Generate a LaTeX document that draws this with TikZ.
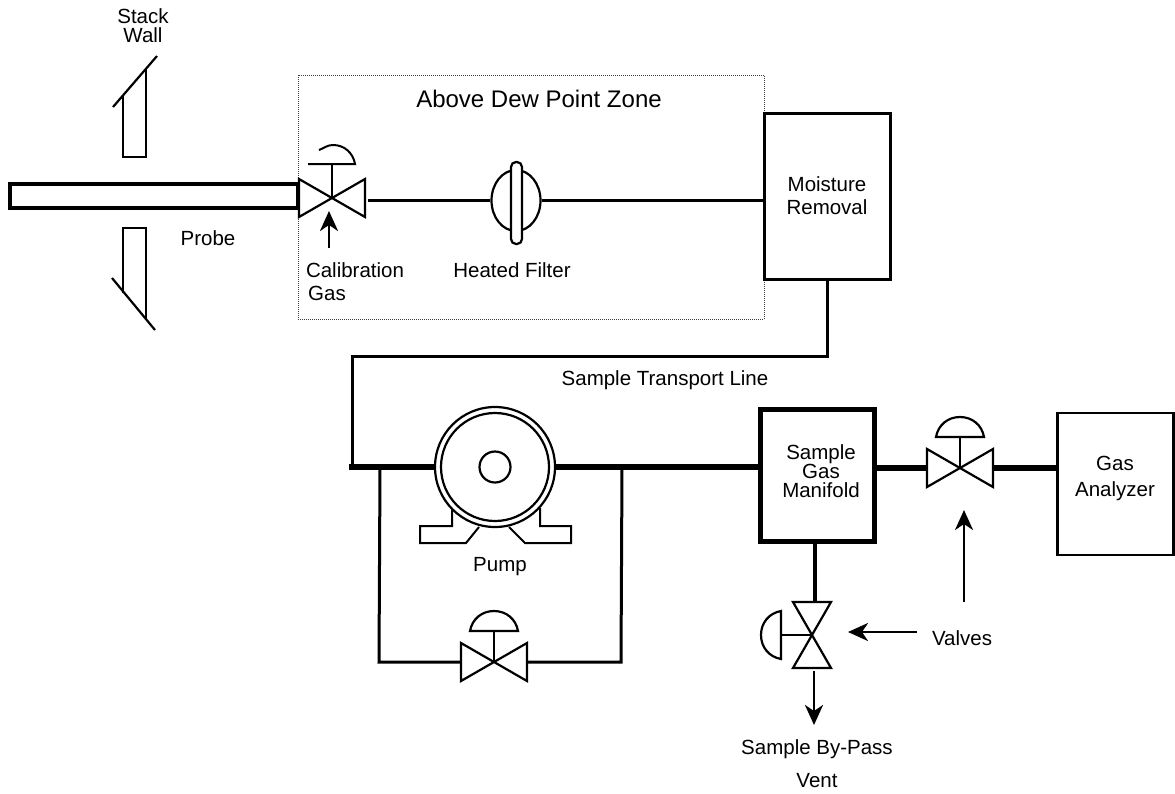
\documentclass[tikz,border=0pt]{standalone}
\usepackage{fontspec}
\setmainfont{Liberation Sans}
\usetikzlibrary{calc,arrows.meta,shapes.geometric}
\tikzset{
    lbl/.style={
        inner sep=0pt, text=black, align=center,
        font=\fontsize{20.5}{19}\selectfont
    },
    thinpipe/.style={line width=3pt},
    thickpipe/.style={line width=6pt},
    pointer/.style={
        line width=2.8pt,
        -{Stealth[length=20pt,width=18pt,inset=6pt]}
    },
    wall/.style={line width=2.2pt},
    valvebody/.pic={
        \draw[line width=2.2pt,line join=miter]
            (-33,-19) -- (33,19) -- (33,-19) -- (-33,19) -- cycle;
        \coordinate (-west) at (-34,0);
        \coordinate (-east) at (34,0);
    },
    valve/.pic={
        \draw[line width=2.2pt,line join=miter]
            (-33,-19) -- (33,19) -- (33,-19) -- (-33,19) -- cycle;
        \draw[line width=2pt] (0,0) -- (0,-31);
        \draw[line width=2.2pt,fill=white]
            (-24,-31) to[out=80,in=180] (0,-51) to[out=0,in=100] (24,-31) -- cycle;
        \coordinate (-west) at (-34,0);
        \coordinate (-east) at (34,0);
    }
}

\begin{document}
\begin{tikzpicture}[x=1pt,y=-1pt]

    \useasboundingbox (0,0) rectangle (1175,793);

    % heated zone
    \draw[line width=1pt,densely dotted,black!75] (298,75) rectangle (764,319);
    \node[lbl,font=\fontsize{24}{26}\selectfont] (zone) at (539,99) {Above Dew Point Zone};

    % stack wall
    \node[lbl] (stack) at (143,26) {Stack\\Wall};
    \draw[wall] (113,107) -- (157,56);
    \draw[line width=1.6pt] (123,96) -- (123,157) -- (146,157) -- (146,68);
    \draw[wall] (112,278) -- (155,330);
    \draw[line width=1.6pt] (123,293) -- (123,228) -- (146,228) -- (146,320);

    % probe
    \node[draw,line width=4pt,minimum width=288pt,minimum height=24pt,inner sep=0pt] (probe) at (154,196) {};
    \node[lbl] (probelbl) at (208,238) {Probe};

    % top run
    \node[draw,fill=white,line width=3pt,minimum width=126pt,minimum height=166pt,inner sep=0pt] (moisture) at (827,196.5) {};
    \node[lbl] (moisturelbl) at (827,196) {Moisture\\[4pt]Removal};
    \pic (vcal) at (332,198) {valvebody};
    \draw[line width=2.5pt] (vcal-west) ++(34,0) -- (332,165);
    \draw[line width=2pt] (308,164) -- (355,164) to[out=100,in=0] (333,145) to[out=180,in=20] (319,150);
    \node[draw,ellipse,line width=2.2pt,minimum width=49pt,minimum height=61pt,inner sep=0pt] (filter) at (516,200.5) {};
    \draw[line width=2.2pt,fill=white,rounded corners=5pt] (511,162) rectangle (522,244);
    \draw[thinpipe] (filter.west -| vcal-east) ++(2,0) -- (filter.west);
    \draw[thinpipe] (filter.east) -- (filter.east -| moisture.west);
    \coordinate (calstart) at (329,248);
    \draw[pointer] (calstart) -- (329,211);
    \node[lbl] (callbl) at (355,270) {Calibration};
    \node[lbl] (calgas) at (327,293) {Gas};
    \node[lbl] (filterlbl) at (512,270) {Heated Filter};

    % transport line
    \node[lbl] (linelbl) at (665,380) {Sample Transport Line};
    \coordinate (corner) at (352,467);
    \draw[thinpipe,line join=miter] (moisture.south) -- (827,356) -- (352,356) -- (corner);

    % pump
    \node[draw,circle,line width=2.2pt,fill=white,minimum size=120pt,inner sep=0pt] (pump) at (495,467) {};
    \node[draw,circle,line width=2.2pt,minimum size=108pt,inner sep=0pt] (pumpin) at (495,467) {};
    \node[draw,circle,line width=2.2pt,minimum size=31pt,inner sep=0pt] (hub) at (495,467) {};
    \draw[line width=2pt,line join=miter] (452,510) -- (452,526) -- (420,526) -- (420,543) -- (466,543) -- (479,527);
    \draw[line width=2pt,line join=miter] (540,508) -- (540,526) -- (571,526) -- (571,543) -- (525,543) -- (509,527);
    \node[lbl] (pumplbl) at (500,567) {Pump};

    % manifold and analyzer
    \node[draw,line width=5pt,minimum width=114pt,minimum height=132pt,inner sep=0pt] (manifold) at (817.5,475.5) {};
    \node[lbl] (manifoldlbl) at (821,471) {Sample\\Gas\\Manifold};
    \node[draw,line width=2.2pt,minimum width=116pt,minimum height=142pt,inner sep=0pt] (analyzer) at (1115.5,484) {};
    \node[lbl] (analyzerlbl) at (1115,478) {Gas\\[7pt]Analyzer};
    \pic (vout) at (960,468) {valve};
    \draw[thickpipe] (corner) ++(-2.75,0) -- (pump.west);
    \draw[thickpipe] (pump.east) -- (pump.east -| manifold.west);
    \draw[thickpipe] (manifold.east |- vout-west) -- (vout-west);
    \draw[thickpipe] (vout-east) -- (vout-east -| analyzer.west);

    % bypass around the pump
    \pic (vbyp) at (494,662) {valve};
    \coordinate (bypl) at (380,467);
    \coordinate (bypr) at (622,467);
    \draw[thinpipe,line join=miter] (bypl) -- (379,662) -- (vbyp-west);
    \draw[thinpipe,line join=miter] (bypr) -- (621,662) -- (vbyp-east);

    % vent
    \pic[rotate=90] (vvent) at (812,635) {valve};
    \draw[line width=4pt] (manifold.south -| 815,0) -- (815,602);
    \coordinate (ventout) at (814,671);
    \draw[pointer] (ventout) -- (814,725);
    \node[lbl] (ventlbla) at (817,749) {Sample By-Pass};
    \node[lbl] (ventlblb) at (817,781) {Vent};

    % valve callouts
    \node[lbl] (valveslbl) at (962,638) {Valves};
    \draw[pointer] (917,632) -- (848,632);
    \draw[pointer] (964,602) -- (964,510);

\end{tikzpicture}
\end{document}
